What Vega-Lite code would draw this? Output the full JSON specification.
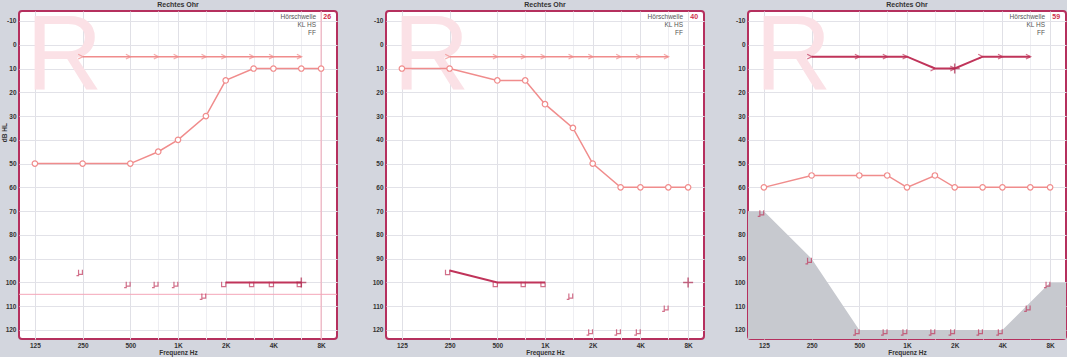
{
  "$schema": "https://vega.github.io/schema/vega-lite/v6.json",
  "autosize": {"type": "pad"},
  "padding": 0,
  "background": "#d3d6de",
  "datasets": {
    "d": [
      {"p":1,"s":"ac","f":125,"db":50},{"p":1,"s":"ac","f":250,"db":50},{"p":1,"s":"ac","f":500,"db":50},{"p":1,"s":"ac","f":750,"db":45},{"p":1,"s":"ac","f":1000,"db":40},{"p":1,"s":"ac","f":1500,"db":30},{"p":1,"s":"ac","f":2000,"db":15},{"p":1,"s":"ac","f":3000,"db":10},{"p":1,"s":"ac","f":4000,"db":10},{"p":1,"s":"ac","f":6000,"db":10},{"p":1,"s":"ac","f":8000,"db":10},
      {"p":1,"s":"arr","f":250,"db":5},{"p":1,"s":"arr","f":500,"db":5},{"p":1,"s":"arr","f":750,"db":5},{"p":1,"s":"arr","f":1000,"db":5},{"p":1,"s":"arr","f":1500,"db":5},{"p":1,"s":"arr","f":2000,"db":5},{"p":1,"s":"arr","f":3000,"db":5},{"p":1,"s":"arr","f":4000,"db":5},{"p":1,"s":"arr","f":6000,"db":5},
      {"p":1,"s":"bcm","f":250,"db":95},{"p":1,"s":"bcm","f":500,"db":100},{"p":1,"s":"bcm","f":750,"db":100},{"p":1,"s":"bcm","f":1000,"db":100},{"p":1,"s":"bcm","f":1500,"db":105},
      {"p":1,"s":"bcu","f":2000,"db":100},{"p":1,"s":"bcu","f":3000,"db":100},{"p":1,"s":"bcu","f":4000,"db":100},{"p":1,"s":"bcu","f":6000,"db":100},
      {"p":1,"s":"plus","f":6000,"db":100},
      {"p":2,"s":"ac","f":125,"db":10},{"p":2,"s":"ac","f":250,"db":10},{"p":2,"s":"ac","f":500,"db":15},{"p":2,"s":"ac","f":750,"db":15},{"p":2,"s":"ac","f":1000,"db":25},{"p":2,"s":"ac","f":1500,"db":35},{"p":2,"s":"ac","f":2000,"db":50},{"p":2,"s":"ac","f":3000,"db":60},{"p":2,"s":"ac","f":4000,"db":60},{"p":2,"s":"ac","f":6000,"db":60},{"p":2,"s":"ac","f":8000,"db":60},
      {"p":2,"s":"arr","f":250,"db":5},{"p":2,"s":"arr","f":500,"db":5},{"p":2,"s":"arr","f":750,"db":5},{"p":2,"s":"arr","f":1000,"db":5},{"p":2,"s":"arr","f":1500,"db":5},{"p":2,"s":"arr","f":2000,"db":5},{"p":2,"s":"arr","f":3000,"db":5},{"p":2,"s":"arr","f":4000,"db":5},{"p":2,"s":"arr","f":6000,"db":5},
      {"p":2,"s":"bcu","f":250,"db":95},{"p":2,"s":"bcu","f":500,"db":100},{"p":2,"s":"bcu","f":750,"db":100},{"p":2,"s":"bcu","f":1000,"db":100},
      {"p":2,"s":"bcm","f":1500,"db":105},{"p":2,"s":"bcm","f":2000,"db":120},{"p":2,"s":"bcm","f":3000,"db":120},{"p":2,"s":"bcm","f":4000,"db":120},{"p":2,"s":"bcm","f":6000,"db":110},
      {"p":2,"s":"plus","f":8000,"db":100},
      {"p":3,"s":"ac","f":125,"db":60},{"p":3,"s":"ac","f":250,"db":55},{"p":3,"s":"ac","f":500,"db":55},{"p":3,"s":"ac","f":750,"db":55},{"p":3,"s":"ac","f":1000,"db":60},{"p":3,"s":"ac","f":1500,"db":55},{"p":3,"s":"ac","f":2000,"db":60},{"p":3,"s":"ac","f":3000,"db":60},{"p":3,"s":"ac","f":4000,"db":60},{"p":3,"s":"ac","f":6000,"db":60},{"p":3,"s":"ac","f":8000,"db":60},
      {"p":3,"s":"arr","f":250,"db":5},{"p":3,"s":"arr","f":500,"db":5},{"p":3,"s":"arr","f":750,"db":5},{"p":3,"s":"arr","f":1000,"db":5},{"p":3,"s":"arr","f":1500,"db":10},{"p":3,"s":"arr","f":2000,"db":10},{"p":3,"s":"arr","f":3000,"db":5},{"p":3,"s":"arr","f":4000,"db":5},{"p":3,"s":"arr","f":6000,"db":5},
      {"p":3,"s":"plus","f":2000,"db":10},
      {"p":3,"s":"bcm","f":125,"db":70},{"p":3,"s":"bcm","f":250,"db":90},{"p":3,"s":"bcm","f":500,"db":120},{"p":3,"s":"bcm","f":750,"db":120},{"p":3,"s":"bcm","f":1000,"db":120},{"p":3,"s":"bcm","f":1500,"db":120},{"p":3,"s":"bcm","f":2000,"db":120},{"p":3,"s":"bcm","f":3000,"db":120},{"p":3,"s":"bcm","f":4000,"db":120},{"p":3,"s":"bcm","f":6000,"db":110},{"p":3,"s":"bcm","f":8000,"db":100},
      {"p":3,"s":"area","f":99.21,"db":70},{"p":3,"s":"area","f":125,"db":70},{"p":3,"s":"area","f":250,"db":90},{"p":3,"s":"area","f":500,"db":120},{"p":3,"s":"area","f":4000,"db":120},{"p":3,"s":"area","f":8000,"db":100},{"p":3,"s":"area","f":10079,"db":100}
    ]
  },
  "config": {
    "view": {"fill": "white", "stroke": "#b5305e", "strokeWidth": 2, "cornerRadius": 3},
    "axis": {"domain": false, "ticks": false, "labelFont": "Liberation Sans", "labelFontSize": 6.5, "labelFontWeight": "bold", "labelColor": "#333", "titleFont": "Liberation Sans", "titleFontSize": 6.5, "titleFontWeight": "bold", "titleColor": "#333", "gridColor": "#e2e2e8", "gridWidth": 1, "labelFlush": false, "labelOverlap": false},
    "axisX": {"labelPadding": 3, "titlePadding": 1},
    "axisY": {"labelPadding": 3},
    "text": {"font": "Liberation Sans"}
  },
  "bounds": "flush",
  "spacing": 49,
  "hconcat": [
    {
      "width": 318, "height": 328,
      "data": {"name": "d"},
      "encoding": {
        "x": {"field": "f", "type": "quantitative", "scale": {"type": "log", "domain": [99.21, 10079], "nice": false}, "axis": {"title": "Frequenz Hz", "labelOverlap": false, "values": [125,250,500,750,1000,1500,2000,3000,4000,6000,8000], "labelExpr": "indexof([750,1500,3000,6000], datum.value) >= 0 ? '' : (datum.value >= 1000 ? (datum.value/1000) + 'K' : '' + datum.value)", "gridColor": {"condition": {"test": "indexof([750,1500,3000,6000], datum.value) >= 0", "value": "#eeeef2"}, "value": "#e0e0e6"}}},
        "y": {"field": "db", "type": "quantitative", "scale": {"domain": [-14.2, 123.8], "reverse": true, "nice": false, "zero": false}, "axis": {"title": null, "labelOverlap": false, "values": [-10,0,10,20,30,40,50,60,70,80,90,100,110,120], "labelExpr": "'' + datum.value"}}
      },
      "layer": [
        {"data": {"values": [{}]}, "mark": {"type": "rect", "fill": "transparent", "clip": false}, "encoding": {"x": {"datum": 76.36}, "x2": {"datum": 99.21}, "y": {"datum": -18.41}, "y2": {"datum": 133.04}}},
        {"data": {"values": [{}]}, "mark": {"type": "rect", "color": "white", "clip": false}, "encoding": {"x": {"datum": 11996}, "x2": {"datum": 17256}, "y": {"datum": -18.41}, "y2": {"datum": 133.04}}},
        {"data": {"values": [{"f": 110, "db": -16.8}]}, "mark": {"type": "text", "text": "R", "fontSize": 106, "color": "#fbe1e6", "align": "left", "baseline": "top"}},
        {"data": {"values": [{"f": 1000, "db": -16.7, "t": "Rechtes Ohr"}]}, "mark": {"type": "text", "fontSize": 7, "fontWeight": "bold", "color": "#333", "align": "center", "baseline": "middle"}, "encoding": {"text": {"field": "t"}}},
        {"data": {"values": [{"f": 80.4, "db": 37, "t": "dB HL"}]}, "mark": {"type": "text", "fontSize": 6.5, "fontWeight": "bold", "color": "#333", "align": "center", "baseline": "middle", "angle": 270}, "encoding": {"text": {"field": "t"}}},
        {"data": {"values": [{"f": 8000, "db": -14.2, "db2": 123.8}]}, "mark": {"type": "rule", "color": "#f4a6b8", "strokeWidth": 1}, "encoding": {"y2": {"field": "db2"}}},
        {"data": {"values": [{"f": 99.21, "f2": 10079, "db": 105}]}, "mark": {"type": "rule", "color": "#f4a6b8", "strokeWidth": 1}, "encoding": {"x2": {"field": "f2"}}},
        {"transform": [{"filter": "datum.p==1 && datum.s=='arr'"}], "mark": {"type": "line", "color": "#f08c8c", "strokeWidth": 1.5}},
        {"transform": [{"filter": "datum.p==1 && datum.s=='arr'"}], "mark": {"type": "point", "shape": "M-0.8,-0.8L0.8,0L-0.8,0.8", "size": 36, "filled": false, "color": "#f08c8c", "strokeWidth": 1.2, "xOffset": -2}},
        {"transform": [{"filter": "datum.p==1 && datum.s=='ac'"}], "mark": {"type": "line", "color": "#f08c8c", "strokeWidth": 1.5, "point": {"filled": true, "fill": "white", "stroke": "#f08c8c", "strokeWidth": 1.2, "size": 30}}},
        {"transform": [{"filter": "datum.p==1 && datum.s=='bcu'"}], "mark": {"type": "line", "color": "#c0345a", "strokeWidth": 2}},
        {"transform": [{"filter": "datum.p==1 && datum.s=='bcu'"}], "mark": {"type": "point", "shape": "M-0.7,-0.9L-0.7,0.7L0.7,0.7L0.7,-0.9", "size": 36, "filled": false, "color": "#c0345a", "strokeWidth": 1.2, "xOffset": -2, "yOffset": 2}},
        {"transform": [{"filter": "datum.p==1 && datum.s=='bcm'"}], "mark": {"type": "point", "shape": "M-0.3,-0.8L-0.3,0.5L0.8,0.5L0.8,-0.8M-0.3,0.5L-0.3,0.9L-0.9,0.9", "size": 49, "filled": false, "color": "#c0345a", "strokeWidth": 1.2, "xOffset": -3, "yOffset": 2}},
        {"transform": [{"filter": "datum.p==1 && datum.s=='plus'"}], "mark": {"type": "point", "shape": "M-1,0L1,0M0,-1L0,1", "size": 100, "filled": false, "color": "#b02a50", "strokeWidth": 1.5}},
        {"data": {"values": [{"f": 7428, "db": -11.7, "t": "Hörschwelle"}, {"f": 7428, "db": -8.3, "t": "KL HS"}, {"f": 7428, "db": -4.9, "t": "FF"}]}, "mark": {"type": "text", "fontSize": 6.5, "color": "#555", "align": "right", "baseline": "middle"}, "encoding": {"text": {"field": "t"}}},
        {"data": {"values": [{"f": 8265, "db": -11.7, "t": "26"}]}, "mark": {"type": "text", "fontSize": 7, "fontWeight": "bold", "color": "#d0304a", "align": "left", "baseline": "middle"}, "encoding": {"text": {"field": "t"}}}
      ]
    },
    {
      "bounds": "flush",
      "spacing": 44,
      "hconcat": [
        {
          "width": 318, "height": 328,
          "data": {"name": "d"},
          "encoding": {
            "x": {"field": "f", "type": "quantitative", "scale": {"type": "log", "domain": [99.21, 10079], "nice": false}, "axis": {"title": "Frequenz Hz", "labelOverlap": false, "values": [125,250,500,750,1000,1500,2000,3000,4000,6000,8000], "labelExpr": "indexof([750,1500,3000,6000], datum.value) >= 0 ? '' : (datum.value >= 1000 ? (datum.value/1000) + 'K' : '' + datum.value)", "gridColor": {"condition": {"test": "indexof([750,1500,3000,6000], datum.value) >= 0", "value": "#eeeef2"}, "value": "#e0e0e6"}}},
            "y": {"field": "db", "type": "quantitative", "scale": {"domain": [-14.2, 123.8], "reverse": true, "nice": false, "zero": false}, "axis": {"title": null, "labelOverlap": false, "values": [-10,0,10,20,30,40,50,60,70,80,90,100,110,120], "labelExpr": "'' + datum.value"}}
          },
          "layer": [
            {"data": {"values": [{}]}, "mark": {"type": "rect", "color": "white", "clip": false}, "encoding": {"x": {"datum": 10376}, "x2": {"datum": 15587}, "y": {"datum": -18.41}, "y2": {"datum": 133.04}}},
            {"data": {"values": [{"f": 110, "db": -16.8}]}, "mark": {"type": "text", "text": "R", "fontSize": 106, "color": "#fbe1e6", "align": "left", "baseline": "top"}},
            {"data": {"values": [{"f": 1000, "db": -16.7, "t": "Rechtes Ohr"}]}, "mark": {"type": "text", "fontSize": 7, "fontWeight": "bold", "color": "#333", "align": "center", "baseline": "middle"}, "encoding": {"text": {"field": "t"}}},
            {"transform": [{"filter": "datum.p==2 && datum.s=='arr'"}], "mark": {"type": "line", "color": "#f08c8c", "strokeWidth": 1.5}},
            {"transform": [{"filter": "datum.p==2 && datum.s=='arr'"}], "mark": {"type": "point", "shape": "M-0.8,-0.8L0.8,0L-0.8,0.8", "size": 36, "filled": false, "color": "#f08c8c", "strokeWidth": 1.2, "xOffset": -2}},
            {"transform": [{"filter": "datum.p==2 && datum.s=='ac'"}], "mark": {"type": "line", "color": "#f08c8c", "strokeWidth": 1.5, "point": {"filled": true, "fill": "white", "stroke": "#f08c8c", "strokeWidth": 1.2, "size": 30}}},
            {"transform": [{"filter": "datum.p==2 && datum.s=='bcu'"}], "mark": {"type": "line", "color": "#c0345a", "strokeWidth": 2}},
            {"transform": [{"filter": "datum.p==2 && datum.s=='bcu'"}], "mark": {"type": "point", "shape": "M-0.7,-0.9L-0.7,0.7L0.7,0.7L0.7,-0.9", "size": 36, "filled": false, "color": "#c0345a", "strokeWidth": 1.2, "xOffset": -2, "yOffset": 2}},
            {"transform": [{"filter": "datum.p==2 && datum.s=='bcm'"}], "mark": {"type": "point", "shape": "M-0.3,-0.8L-0.3,0.5L0.8,0.5L0.8,-0.8M-0.3,0.5L-0.3,0.9L-0.9,0.9", "size": 49, "filled": false, "color": "#c0345a", "strokeWidth": 1.2, "xOffset": -3, "yOffset": 2}},
            {"transform": [{"filter": "datum.p==2 && datum.s=='plus'"}], "mark": {"type": "point", "shape": "M-1,0L1,0M0,-1L0,1", "size": 100, "filled": false, "color": "#b02a50", "strokeWidth": 1.5}},
            {"data": {"values": [{"f": 7428, "db": -11.7, "t": "Hörschwelle"}, {"f": 7428, "db": -8.3, "t": "KL HS"}, {"f": 7428, "db": -4.9, "t": "FF"}]}, "mark": {"type": "text", "fontSize": 6.5, "color": "#555", "align": "right", "baseline": "middle"}, "encoding": {"text": {"field": "t"}}},
            {"data": {"values": [{"f": 8265, "db": -11.7, "t": "40"}]}, "mark": {"type": "text", "fontSize": 7, "fontWeight": "bold", "color": "#d0304a", "align": "left", "baseline": "middle"}, "encoding": {"text": {"field": "t"}}}
          ]
        },
        {
          "width": 318, "height": 328,
          "data": {"name": "d"},
          "encoding": {
            "x": {"field": "f", "type": "quantitative", "scale": {"type": "log", "domain": [99.21, 10079], "nice": false}, "axis": {"title": "Frequenz Hz", "labelOverlap": false, "values": [125,250,500,750,1000,1500,2000,3000,4000,6000,8000], "labelExpr": "indexof([750,1500,3000,6000], datum.value) >= 0 ? '' : (datum.value >= 1000 ? (datum.value/1000) + 'K' : '' + datum.value)", "gridColor": {"condition": {"test": "indexof([750,1500,3000,6000], datum.value) >= 0", "value": "#eeeef2"}, "value": "#e0e0e6"}}},
            "y": {"field": "db", "type": "quantitative", "scale": {"domain": [-14.2, 123.8], "reverse": true, "nice": false, "zero": false}, "axis": {"title": null, "labelOverlap": false, "values": [-10,0,10,20,30,40,50,60,70,80,90,100,110,120], "labelExpr": "'' + datum.value"}}
          },
          "layer": [
            {"data": {"values": [{}]}, "mark": {"type": "rect", "fill": "transparent", "clip": false}, "encoding": {"x": {"datum": 10079}, "x2": {"datum": 13000}, "y": {"datum": -18.41}, "y2": {"datum": 133.04}}},
            {"data": {"values": [{"f": 110, "db": -16.8}]}, "mark": {"type": "text", "text": "R", "fontSize": 106, "color": "#fbe1e6", "align": "left", "baseline": "top"}},
            {"data": {"values": [{"f": 1000, "db": -16.7, "t": "Rechtes Ohr"}]}, "mark": {"type": "text", "fontSize": 7, "fontWeight": "bold", "color": "#333", "align": "center", "baseline": "middle"}, "encoding": {"text": {"field": "t"}}},
            {"transform": [{"filter": "datum.p==3 && datum.s=='area'"}], "mark": {"type": "area", "color": "#c7c9cf", "opacity": 1}, "encoding": {"y2": {"datum": 123.8}}},
            {"transform": [{"filter": "datum.p==3 && datum.s=='arr'"}], "mark": {"type": "line", "color": "#c0345a", "strokeWidth": 2}},
            {"transform": [{"filter": "datum.p==3 && datum.s=='arr'"}], "mark": {"type": "point", "shape": "M-0.8,-0.8L0.8,0L-0.8,0.8", "size": 36, "filled": false, "color": "#c0345a", "strokeWidth": 1.2, "xOffset": -2}},
            {"transform": [{"filter": "datum.p==3 && datum.s=='ac'"}], "mark": {"type": "line", "color": "#f08c8c", "strokeWidth": 1.5, "point": {"filled": true, "fill": "white", "stroke": "#f08c8c", "strokeWidth": 1.2, "size": 30}}},
            {"transform": [{"filter": "datum.p==3 && datum.s=='bcm'"}], "mark": {"type": "point", "shape": "M-0.3,-0.8L-0.3,0.5L0.8,0.5L0.8,-0.8M-0.3,0.5L-0.3,0.9L-0.9,0.9", "size": 49, "filled": false, "color": "#c0345a", "strokeWidth": 1.2, "xOffset": -3, "yOffset": 2}},
            {"transform": [{"filter": "datum.p==3 && datum.s=='plus'"}], "mark": {"type": "point", "shape": "M-1,0L1,0M0,-1L0,1", "size": 100, "filled": false, "color": "#b02a50", "strokeWidth": 1.5}},
            {"data": {"values": [{"f": 7428, "db": -11.7, "t": "Hörschwelle"}, {"f": 7428, "db": -8.3, "t": "KL HS"}, {"f": 7428, "db": -4.9, "t": "FF"}]}, "mark": {"type": "text", "fontSize": 6.5, "color": "#555", "align": "right", "baseline": "middle"}, "encoding": {"text": {"field": "t"}}},
            {"data": {"values": [{"f": 8265, "db": -11.7, "t": "59"}]}, "mark": {"type": "text", "fontSize": 7, "fontWeight": "bold", "color": "#d0304a", "align": "left", "baseline": "middle"}, "encoding": {"text": {"field": "t"}}},
            {"data": {"values": [{}]}, "mark": {"type": "rect", "fill": "transparent", "stroke": "#b5305e", "strokeWidth": 2, "cornerRadius": 3}, "encoding": {"x": {"datum": 99.21}, "x2": {"datum": 10079}, "y": {"datum": -14.2}, "y2": {"datum": 123.8}}}
          ]
        }
      ]
    }
  ]
}
